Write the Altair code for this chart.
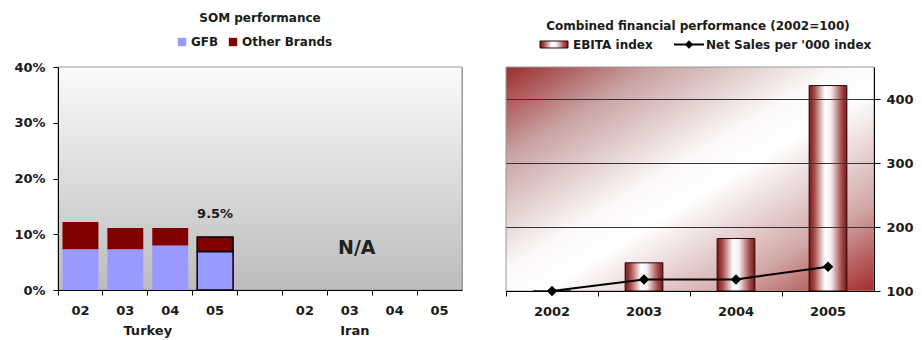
import altair as alt
import pandas as pd

# ---------------- data ----------------
som_title = "SOM performance"
som_cats = ["Turkey 02", "Turkey 03", "Turkey 04", "Turkey 05", " ",
            "Iran 02", "Iran 03", "Iran 04", "Iran 05"]
turkey_cats = ["Turkey 02", "Turkey 03", "Turkey 04", "Turkey 05"]
gfb_share = [0.073, 0.073, 0.080, 0.069]
other_share = [0.049, 0.038, 0.031, 0.026]
brands = ["GFB", "Other Brands"]
brand_colors = ["#9999ff", "#800000"]
group_names = ["Turkey", "Iran"]
na_text = "N/A"

fin_title = "Combined financial performance (2002=100)"
years = ["2002", "2003", "2004", "2005"]
ebita_index = [100, 144, 182, 421]
net_sales_index = [100, 118, 118, 138]
fin_series = ["EBITA index", "Net Sales per '000 index"]

FONT = "DejaVu Sans"
TXT = "#1a1a1a"

# ---------------- tables ----------------
rows = []
for c, g, o in zip(turkey_cats, gfb_share, other_share):
    rows.append({"cat": c, "brand": brands[0], "value": g, "ord": 0})
    rows.append({"cat": c, "brand": brands[1], "value": o, "ord": 1})
som_df = pd.DataFrame(rows)
tot_df = pd.DataFrame({"cat": turkey_cats,
                       "value": [g + o for g, o in zip(gfb_share, other_share)]})

fin_df = pd.DataFrame({"year": years, "ebita": ebita_index,
                       "net": net_sales_index, "base": [100] * len(years)})
one = pd.DataFrame({"a": [0]})

# ---------------- left panel ----------------
LW, LH = 404, 223
xs = alt.Scale(domain=som_cats, paddingInner=0, paddingOuter=0)
ys = alt.Scale(domain=[0, 0.4])
lx_axis = alt.Axis(title=None, bandPosition=0,
                   labelExpr="slice(datum.label, -2)", labelAngle=0,
                   tickSize=5, tickColor="black", domainColor="black",
                   labelFontSize=13, labelFontWeight="bold", labelColor=TXT,
                   labelPadding=9, grid=False, labelFont=FONT, zindex=2)
ly_axis = alt.Axis(title=None, format=".0%", values=[0, 0.1, 0.2, 0.3, 0.4],
                   tickSize=5, tickColor="black", domainColor="black",
                   labelPadding=8, grid=False, labelFontSize=13,
                   labelFontWeight="bold", labelColor=TXT, labelFont=FONT, zindex=2)
LX = lambda **kw: alt.X("cat:N", scale=xs, sort=som_cats, axis=lx_axis, **kw)
LY = lambda f: alt.Y(f, scale=ys, axis=ly_axis)

left_grad = alt.LinearGradient(gradient="linear", x1=0, y1=0, x2=0, y2=1, stops=[
    alt.GradientStop(offset=0, color="#fbfbfb"),
    alt.GradientStop(offset=1, color="#bcbcbc")])
left_bg = alt.Chart(one).mark_rect(fill=left_grad, stroke="#999999", strokeWidth=1).encode(
    x=alt.value(0), x2=alt.value(LW), y=alt.value(0), y2=alt.value(LH))

bars = alt.Chart(som_df).mark_bar(width=alt.RelativeBandSize(0.8), strokeWidth=1.5).encode(
    x=LX(),
    y=alt.Y("value:Q", stack="zero", scale=ys, axis=ly_axis),
    color=alt.Color("brand:N", scale=alt.Scale(domain=brands, range=brand_colors),
                    legend=alt.Legend(orient="none", legendX=118, legendY=-31,
                                      direction="horizontal", title=None,
                                      symbolType="square", symbolSize=70,
                                      symbolStrokeWidth=0, labelFontSize=12,
                                      labelFontWeight="bold", labelFont=FONT,
                                      labelColor=TXT, columnPadding=8, labelOffset=3)),
    order=alt.Order("ord:Q"),
    stroke=alt.condition("datum.cat === 'Turkey 05'", alt.value("black"), alt.value("transparent")),
)

val_label = alt.Chart(tot_df).transform_filter("datum.cat === 'Turkey 05'").mark_text(
    fontSize=13, fontWeight="bold", font=FONT, color=TXT, dy=-23
).encode(
    x=LX(), y=LY("value:Q"),
    text=alt.Text("value:Q", format=".1%"),
)

na_df = pd.DataFrame({"cat": ["Iran 03"], "value": [0.076], "t": [na_text]})
na_label = alt.Chart(na_df).mark_text(fontSize=19, fontWeight="bold", font=FONT,
                                      color="#222", dx=7).encode(
    x=LX(), y=LY("value:Q"), text="t:N")

grp1 = alt.Chart(pd.DataFrame({"cat": ["Turkey 04"], "t": [group_names[0]]})).mark_text(
    fontSize=13, fontWeight="bold", font=FONT, color=TXT).encode(
    x=LX(bandPosition=0), y=alt.value(LH + 41), text="t:N")
grp2 = alt.Chart(pd.DataFrame({"cat": ["Iran 03"], "t": [group_names[1]]})).mark_text(
    fontSize=13, fontWeight="bold", font=FONT, color=TXT, dx=5).encode(
    x=LX(), y=alt.value(LH + 41), text="t:N")

ltitle = alt.Chart(pd.DataFrame({"t": [som_title]})).mark_text(
    fontSize=12, fontWeight="bold", font=FONT, color=TXT).encode(
    x=alt.value(LW / 2), y=alt.value(-49), text="t:N")

left = alt.layer(left_bg, bars, val_label, na_label, grp1, grp2, ltitle).properties(
    width=LW, height=LH)

# ---------------- right panel ----------------
RW, RH = 368, 224
rx = alt.Scale(domain=years, paddingInner=0, paddingOuter=0)
ry = alt.Scale(domain=[100, 450], zero=False, nice=False)
rx_axis = alt.Axis(title=None, bandPosition=0, labelAngle=0,
                   tickSize=5, tickColor="black", domainColor="black",
                   labelFontSize=13, labelFontWeight="bold", labelColor=TXT,
                   labelPadding=9, grid=False, labelFont=FONT, zindex=2)
ry_axis = alt.Axis(title=None, orient="right", values=[100, 200, 300, 400],
                   tickSize=6, tickColor="black", domainColor="black",
                   labelPadding=6, grid=True, gridColor="#333333",
                   labelFontSize=13, labelFontWeight="bold", labelColor=TXT,
                   labelFont=FONT, zindex=1)

right_grad = alt.LinearGradient(gradient="linear", x1=0, y1=0, x2=1, y2=1, stops=[
    alt.GradientStop(offset=0, color="#9c2c2c"),
    alt.GradientStop(offset=0.2, color="#c9a2a2"),
    alt.GradientStop(offset=0.45, color="#fbf8f8"),
    alt.GradientStop(offset=0.55, color="#ffffff"),
    alt.GradientStop(offset=0.8, color="#d2a8a8"),
    alt.GradientStop(offset=1, color="#a22a2a")])
right_bg = alt.Chart(one).mark_rect(fill=right_grad, stroke="#999999", strokeWidth=1).encode(
    x=alt.value(0), x2=alt.value(RW), y=alt.value(0), y2=alt.value(RH))

bar_grad = alt.LinearGradient(gradient="linear", x1=0, y1=0, x2=1, y2=0, stops=[
    alt.GradientStop(offset=0, color="#7a1414"),
    alt.GradientStop(offset=0.15, color="#a85050"),
    alt.GradientStop(offset=0.42, color="#ffffff"),
    alt.GradientStop(offset=0.58, color="#f6eeee"),
    alt.GradientStop(offset=0.85, color="#a85050"),
    alt.GradientStop(offset=1, color="#7a1414")])

RX = lambda: alt.X("year:N", scale=rx, sort=years, axis=rx_axis)

ebars = alt.Chart(fin_df).mark_bar(width=alt.RelativeBandSize(0.41), fill=bar_grad,
                                   stroke="#2a0808", strokeWidth=1).encode(
    x=RX(),
    y=alt.Y("ebita:Q", scale=ry, axis=ry_axis),
    y2="base:Q",
)
nline = alt.Chart(fin_df).mark_line(color="black", strokeWidth=2).encode(
    x=RX(), y=alt.Y("net:Q", scale=ry, axis=ry_axis))
npts = alt.Chart(fin_df).mark_point(shape="diamond", filled=True, size=110,
                                    color="black", opacity=1).encode(
    x=RX(), y=alt.Y("net:Q", scale=ry, axis=ry_axis))

rtitle = alt.Chart(pd.DataFrame({"t": [fin_title]})).mark_text(
    fontSize=12, fontWeight="bold", font=FONT, color=TXT).encode(
    x=alt.value(192), y=alt.value(-41), text="t:N")

sw = alt.Chart(one).mark_rect(fill=bar_grad, stroke="#2a0808", strokeWidth=1).encode(
    x=alt.value(34), x2=alt.value(62), y=alt.value(-26), y2=alt.value(-19))
sw_t = alt.Chart(pd.DataFrame({"t": [fin_series[0]]})).mark_text(
    fontSize=12, fontWeight="bold", font=FONT, color=TXT, align="left").encode(
    x=alt.value(67), y=alt.value(-22.5), text="t:N")
ln = alt.Chart(one).mark_rule(color="black", strokeWidth=2).encode(
    x=alt.value(168), x2=alt.value(198), y=alt.value(-22.5))
ln_p = alt.Chart(one).mark_point(shape="diamond", filled=True, size=70,
                                 color="black", opacity=1).encode(
    x=alt.value(183), y=alt.value(-22.5))
ln_t = alt.Chart(pd.DataFrame({"t": [fin_series[1]]})).mark_text(
    fontSize=12, fontWeight="bold", font=FONT, color=TXT, align="left").encode(
    x=alt.value(200), y=alt.value(-22.5), text="t:N")

right = alt.layer(right_bg, ebars, nline, npts, rtitle, sw, sw_t, ln, ln_p, ln_t).properties(
    width=RW, height=RH)

chart = alt.hconcat(left, right, spacing=42).properties(
    padding={"left": 5, "top": 3, "right": 0, "bottom": 0},
    background="white",
).configure(font=FONT).configure_view(stroke="#999999")

chart.save("out.html", embed_options={"renderer": "svg", "actions": False})
